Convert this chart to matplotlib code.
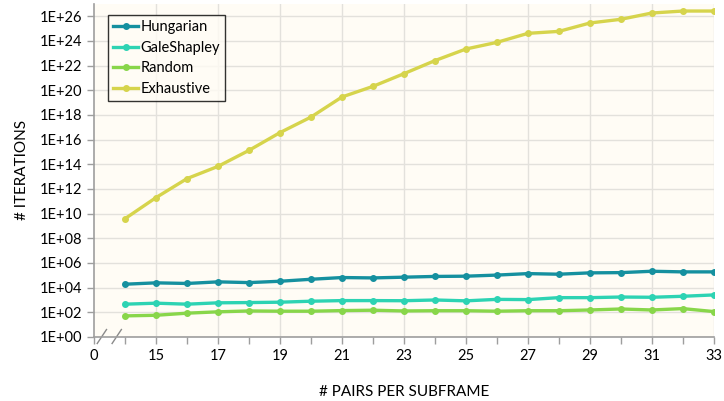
import numpy as np
import matplotlib.pyplot as plt

plt.rcParams['font.family'] = ['Lato', 'DejaVu Sans']

# pairs per subframe
pairs = [14, 15, 16, 17, 18, 19, 20, 21, 22, 23, 24, 25, 26, 27, 28, 29, 30, 31, 32, 33]

# log10 of the number of iterations
hungarian_log = [4.27, 4.38, 4.33, 4.46, 4.40, 4.51, 4.67, 4.81, 4.78, 4.84,
                 4.90, 4.92, 5.01, 5.13, 5.08, 5.19, 5.21, 5.32, 5.27, 5.27]
galeshapley_log = [2.65, 2.73, 2.65, 2.76, 2.78, 2.81, 2.89, 2.94, 2.94, 2.93,
                   2.99, 2.92, 3.04, 3.02, 3.18, 3.18, 3.23, 3.21, 3.29, 3.40]
random_log = [1.70, 1.75, 1.92, 2.03, 2.10, 2.08, 2.08, 2.13, 2.16, 2.10,
              2.12, 2.12, 2.08, 2.12, 2.12, 2.18, 2.26, 2.18, 2.29, 2.05]
exhaustive_log = [9.59, 11.30, 12.84, 13.83, 15.13, 16.57, 17.83, 19.46, 20.32, 21.35,
                  22.41, 23.35, 23.89, 24.62, 24.78, 25.46, 25.76, 26.27, 26.43, 26.43]

series = [
    ("Hungarian", hungarian_log, '#15909F'),
    ("GaleShapley", galeshapley_log, '#2DD3B3'),
    ("Random", random_log, '#88D64A'),
    ("Exhaustive", exhaustive_log, '#D6D44C'),
]

fig = plt.figure(figsize=(7.24, 4.01), dpi=100)
ax = fig.add_axes([0.130, 0.160, 0.856, 0.830])
ax.set_facecolor('#FFFCF5')

for name, vals, col in series:
    ax.plot(pairs, 10 ** np.array(vals), color=col, lw=2.4, marker='o',
            markersize=4, label=name, zorder=3)

ax.set_yscale('log')
ax.set_ylim(1, 1e27)
ax.set_xlim(13, 33)

yt = [10.0 ** k for k in range(0, 27, 2)]
ax.set_yticks(yt)
ax.set_yticklabels([f"1E+{k:02d}" for k in range(0, 27, 2)])
ax.yaxis.set_minor_locator(plt.NullLocator())

xt = list(range(13, 34))
ax.set_xticks(xt)
ax.set_xticklabels(["0" if v == 13 else (str(v) if v % 2 == 1 else "") for v in xt])
ax.get_xticklabels()[0].set_fontsize(13)

ax.grid(axis='y', color='#E3E1DC', lw=1)
for v in range(15, 34, 2):
    ax.axvline(v, color='#E3E1DC', lw=1, zorder=1)
ax.set_axisbelow(True)

for s in ['top', 'right']:
    ax.spines[s].set_visible(False)
for s in ['left', 'bottom']:
    ax.spines[s].set_color('#9E9E9E')
    ax.spines[s].set_linewidth(1.2)
ax.tick_params(axis='both', colors='#9E9E9E', labelcolor='black', labelsize=10.5,
               length=5, width=1)

# axis break marks
tr = ax.get_xaxis_transform()
for x0 in (13.1, 13.58):
    ax.plot([x0, x0 + 0.3], [-0.02, 0.022], color='#8A8A8A', lw=1, transform=tr, clip_on=False)
ax.plot([13.25, 13.75], [0, 0], color='white', lw=2, transform=tr, clip_on=False, zorder=0)

ax.set_xlabel("# PAIRS PER SUBFRAME", fontsize=11, labelpad=16)
ax.set_ylabel("# ITERATIONS", fontsize=11, labelpad=8)

leg = ax.legend(loc='upper left', bbox_to_anchor=(0.0226, 0.967), fontsize=10.5,
                frameon=True, fancybox=False, handlelength=1.7, handletextpad=0.15,
                borderpad=0.35, labelspacing=0.45, borderaxespad=0)
leg.get_frame().set_edgecolor('black')
leg.get_frame().set_facecolor('#FFFCF5')
leg.get_frame().set_linewidth(1)

plt.savefig('out.png', dpi=100)
